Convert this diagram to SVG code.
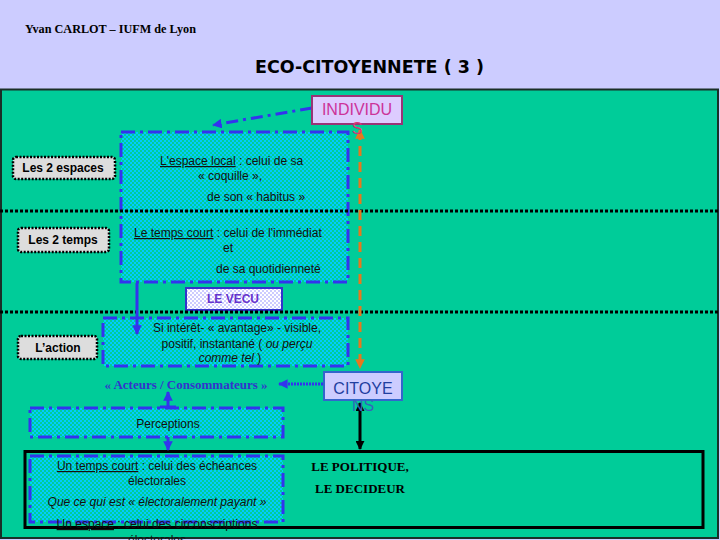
<svg xmlns="http://www.w3.org/2000/svg" width="720" height="540" viewBox="0 0 720 540">
<defs>
<pattern id="chk" width="4" height="4" patternUnits="userSpaceOnUse">
<rect width="4" height="4" fill="#00CC99"/>
<rect width="2" height="2" fill="#00CCFF"/>
<rect x="2" y="2" width="2" height="2" fill="#00CCFF"/>
</pattern>
<pattern id="chkw" width="4" height="4" patternUnits="userSpaceOnUse">
<rect width="4" height="4" fill="#FFFFFF"/>
<rect width="2" height="2" fill="#CCCCFF"/>
<rect x="2" y="2" width="2" height="2" fill="#CCCCFF"/>
</pattern>
<marker id="ab" viewBox="0 0 10 10" refX="9" refY="5" markerWidth="3.2" markerHeight="3.2" orient="auto" markerUnits="strokeWidth">
<path d="M0,0 L10,5 L0,10 z" fill="#3333EE"/>
</marker>
<marker id="ao" viewBox="0 0 10 10" refX="9" refY="5" markerWidth="3.2" markerHeight="3.2" orient="auto-start-reverse" markerUnits="strokeWidth">
<path d="M0,0 L10,5 L0,10 z" fill="#E6781E"/>
</marker>
<marker id="ak" viewBox="0 0 10 10" refX="9" refY="5" markerWidth="3" markerHeight="3" orient="auto-start-reverse" markerUnits="strokeWidth">
<path d="M0,0 L10,5 L0,10 z" fill="#000"/>
</marker>
</defs>
<style>
.dd{fill:url(#chk);stroke:#3333EE;stroke-width:3;stroke-dasharray:14 5 3 5}
.lbl{fill:#DDDDDD;stroke:#000;stroke-width:2.5;stroke-dasharray:2 1.5}
.t{font-family:"Liberation Sans",Arial,sans-serif;font-size:12px;fill:#111}
.tb{font-family:"Liberation Sans",Arial,sans-serif;font-size:12px;font-weight:bold;fill:#000}
.ts{font-family:"Liberation Serif","Times New Roman",serif;font-weight:bold}
.dot{stroke:#000;stroke-width:3;stroke-dasharray:3 2}
</style>
<rect x="0" y="0" width="720" height="540" fill="#CCCCFF"/>
<rect x="1" y="89.5" width="717" height="448.5" fill="#00CC99" stroke="#1a2e28" stroke-width="2"/>
<text x="25" y="33" class="ts" font-size="13" textLength="171" lengthAdjust="spacingAndGlyphs" fill="#000">Yvan CARLOT – IUFM de Lyon</text>
<text x="255" y="73" font-family="DejaVu Sans,sans-serif" font-weight="bold" font-size="18" textLength="229" lengthAdjust="spacingAndGlyphs" fill="#000">ECO-CITOYENNETE ( 3 )</text>

<g id="box-espace-temps">
<rect class="dd" x="121" y="132" width="227" height="150"/>
<text class="t" x="160" y="165"><tspan text-decoration="underline">L'espace local</tspan> : celui de sa</text>
<text class="t" x="230" y="180" text-anchor="middle">« coquille »,</text>
<text class="t" x="207" y="201">de son « habitus »</text>
<text class="t" x="134" y="237"><tspan text-decoration="underline">Le temps court</tspan> : celui de l'immédiat</text>
<text class="t" x="223" y="252">et</text>
<text class="t" x="216" y="273">de sa quotidienneté</text>
</g>

<g id="box-action">
<rect class="dd" x="103" y="318" width="245" height="48"/>
<text class="t" x="237" y="332" text-anchor="middle">Si intérêt-  « avantage» - visible,</text>
<text class="t" x="237" y="348" text-anchor="middle">positif, instantané ( <tspan font-style="italic">ou perçu</tspan></text>
<text class="t" x="230" y="362" text-anchor="middle"><tspan font-style="italic">comme tel</tspan> )</text>
</g>

<g id="box-perceptions">
<rect class="dd" x="30" y="408" width="253" height="29"/>
<text class="t" x="168" y="428" text-anchor="middle">Perceptions</text>
</g>

<g id="politique">
<rect x="25" y="451.5" width="678" height="76" fill="none" stroke="#000" stroke-width="3"/>
<text class="ts" x="360" y="471" font-size="13" text-anchor="middle" fill="#000">LE POLITIQUE,</text>
<text class="ts" x="360" y="493" font-size="13" text-anchor="middle" fill="#000">LE DECIDEUR</text>
</g>

<g id="box-electoral">
<rect class="dd" x="30" y="456" width="253" height="66"/>
<text class="t" x="157" y="470" text-anchor="middle"><tspan text-decoration="underline">Un temps court</tspan> : celui des échéances</text>
<text class="t" x="157" y="485" text-anchor="middle">électorales</text>
<text class="t" x="157" y="506" text-anchor="middle" font-style="italic">Que ce qui est « électoralement payant »</text>
<text class="t" x="157" y="528" text-anchor="middle"><tspan text-decoration="underline">Un espace</tspan> : celui des circonscriptions</text>
<text class="t" x="157" y="544" text-anchor="middle">électorales</text>
</g>

<g id="label-espaces">
<rect class="lbl" x="13" y="157" width="102" height="22" rx="3"/>
<text class="tb" x="63" y="172" text-anchor="middle">Les 2 espaces</text>
</g>
<g id="label-temps">
<rect class="lbl" x="18" y="228" width="91" height="24" rx="3"/>
<text class="tb" x="63" y="244" text-anchor="middle">Les 2 temps</text>
</g>
<g id="label-action">
<rect class="lbl" x="18" y="336" width="79" height="23" rx="3"/>
<text class="tb" x="58" y="352" text-anchor="middle">L’action</text>
</g>

<g id="le-vecu">
<rect x="186" y="288" width="96" height="22" fill="url(#chkw)" stroke="#3333CC" stroke-width="2"/>
<text class="tb" x="233" y="303" text-anchor="middle" fill="#6633CC" style="fill:#6633CC">LE VECU</text>
</g>

<g id="acteurs">
<text class="ts" x="186" y="389" font-size="13" text-anchor="middle" fill="#3333CC">« Acteurs / Consommateurs »</text>
</g>

<g id="connectors">
<line class="dot" x1="0" y1="211" x2="720" y2="211"/>
<line class="dot" x1="0" y1="312" x2="720" y2="312"/>
<line x1="360" y1="130" x2="360" y2="368" stroke="#E6781E" stroke-width="3" stroke-dasharray="10 6" marker-start="url(#ao)" marker-end="url(#ao)"/>
<line x1="312" y1="108" x2="213" y2="125" stroke="#3333EE" stroke-width="3" stroke-dasharray="12 5 3 5" marker-end="url(#ab)"/>
<line x1="137" y1="283" x2="137" y2="334" stroke="#3333EE" stroke-width="3" marker-end="url(#ab)"/>
<line x1="323" y1="384" x2="279" y2="384" stroke="#3333EE" stroke-width="3" stroke-dasharray="2 1" marker-end="url(#ab)"/>
<line x1="168" y1="408" x2="168" y2="392" stroke="#3333EE" stroke-width="3" marker-end="url(#ab)"/>
<line x1="160" y1="407" x2="176" y2="407" stroke="#3333EE" stroke-width="3"/>
<line x1="168" y1="437" x2="168" y2="450" stroke="#3333EE" stroke-width="3" marker-end="url(#ab)"/>
<line x1="360" y1="403" x2="360" y2="449" stroke="#000" stroke-width="3" marker-start="url(#ak)" marker-end="url(#ak)"/>
</g>

<g id="individus">
<rect x="312" y="96" width="90" height="28" fill="#DDCCFF" stroke="#993377" stroke-width="2"/>
<text x="357" y="115" font-family="Liberation Sans,Arial,sans-serif" font-size="16" text-anchor="middle" fill="#CC3399">INDIVIDU</text>
<text x="357" y="134" font-family="Liberation Sans,Arial,sans-serif" font-size="16" text-anchor="middle" fill="#DD3377">S</text>
</g>

<g id="citoyens">
<rect x="324" y="372" width="78" height="28" fill="#CCCCFF" stroke="#3366CC" stroke-width="2"/>
<text x="363" y="394" font-family="Liberation Sans,Arial,sans-serif" font-size="16" text-anchor="middle" fill="#1F3FA0">CITOYE</text>
<text x="363" y="411" font-family="Liberation Sans,Arial,sans-serif" font-size="16" text-anchor="middle" fill="#3366BB">NS</text>
</g>
</svg>
